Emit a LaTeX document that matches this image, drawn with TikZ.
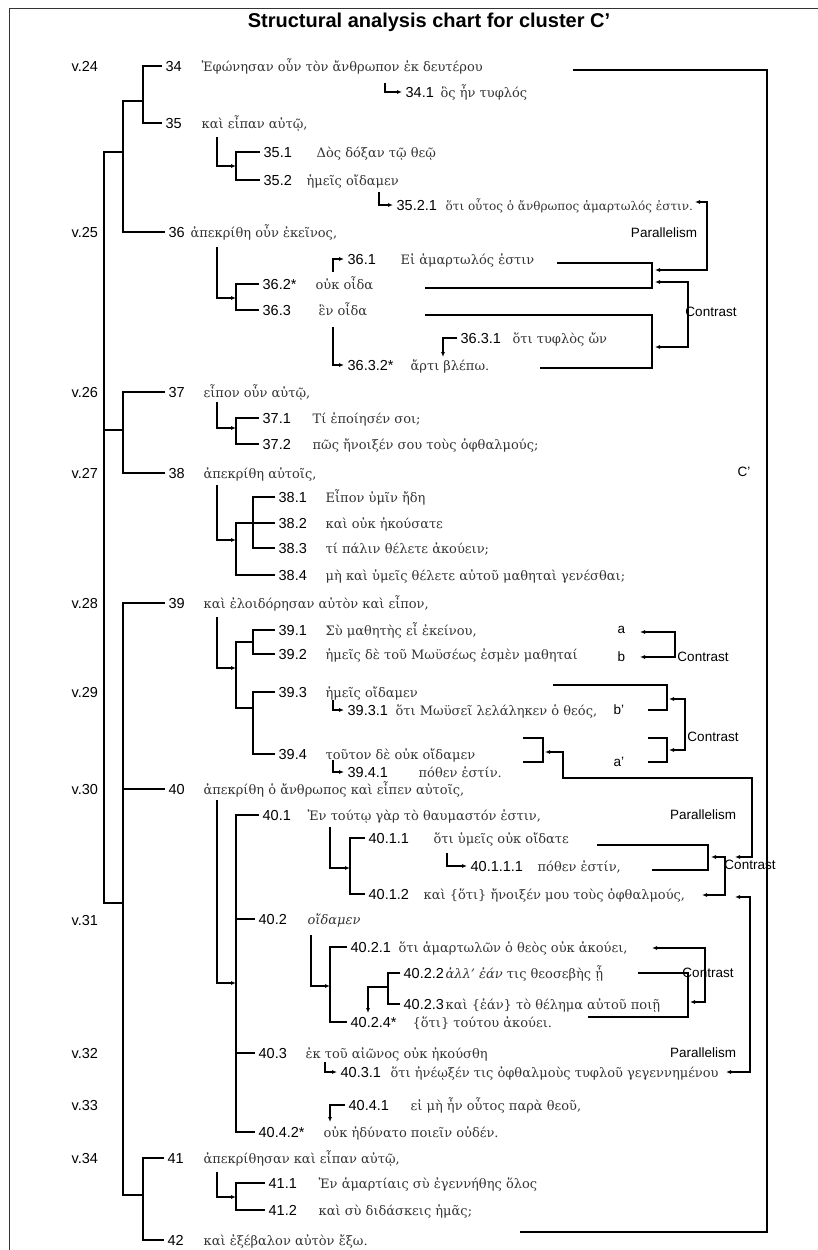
\documentclass[tikz,border=0pt]{standalone}
\usepackage{fontspec}
\setmainfont{DejaVu Serif}
\newfontfamily\sansf{Liberation Sans}
\usetikzlibrary{arrows.meta}

\begin{document}
\begin{tikzpicture}[x=1pt, y=-1pt, line width=1.3pt,
  num/.style={font=\sansf\fontsize{14.5}{16}\selectfont, anchor=base west, inner sep=3pt},
  gk/.style={font=\fontsize{13}{15}\selectfont, text=black!80, anchor=base west, inner sep=0pt},
  lab/.style={font=\sansf\fontsize{13.5}{16}\selectfont, inner sep=0pt},
  ar/.style={-{Latex[length=5pt,width=4pt]}},
  dbl/.style={{Latex[length=5pt,width=4pt]}-{Latex[length=5pt,width=4pt]}}]
  \useasboundingbox (0,0) rectangle (818,1250);
  %% Frame and title
  \draw[line width=0.8pt, black!80] (9,1250) -- (9,8) -- (818,8);
  \node[font=\sansf\bfseries\fontsize{20}{22}\selectfont] (title) at (429,22) {Structural analysis chart for cluster C’};
  %% Verse markers
  \foreach \v/\y in {24/66,25/232,26/392,27/473,28/603,29/692,30/789,31/920,32/1053,33/1105,34/1158}
    \node[num, inner sep=0pt] (v\v) at (71,\y+5) {v.\v};
  %% Numbered lines and Greek text
  \foreach \id/\nx/\y/\lbl/\tx/\txt in {
    34/165/66/34/201/{Ἐφώνησαν οὖν τὸν ἄνθρωπον ἐκ δευτέρου},
    34-1/405/92/34.1/440/{ὃς ἦν τυφλός},
    35/165/123/35/201/{καὶ εἶπαν αὐτῷ,},
    35-1/263/152/35.1/316/{Δὸς δόξαν τῷ θεῷ},
    35-2/263/180/35.2/306/{ἡμεῖς οἴδαμεν},
    35-2-1/396/205/35.2.1/445/{\fontsize{12}{14}\selectfont ὅτι οὗτος ὁ ἄνθρωπος ἁμαρτωλός ἐστιν.},
    36/168/232/36/190/{ἀπεκρίθη οὖν ἐκεῖνος,},
    36-1/347/259/36.1/400/{Εἰ ἁμαρτωλός ἐστιν},
    36-2/262/284/36.2*/315/{οὐκ οἶδα},
    36-3/262/310/36.3/318/{ἓν οἶδα},
    36-3-1/460/338/36.3.1/512/{ὅτι τυφλὸς ὤν},
    36-3-2/347/365/36.3.2*/410/{ἄρτι βλέπω.},
    37/168/392/37/203/{εἶπον οὖν αὐτῷ,},
    37-1/262/418/37.1/312/{Τί ἐποίησέν σοι;},
    37-2/262/444/37.2/312/{πῶς ἤνοιξέν σου τοὺς ὀφθαλμούς;},
    38/168/473/38/203/{ἀπεκρίθη αὐτοῖς,},
    38-1/278/497/38.1/325/{Εἶπον ὑμῖν ἤδη},
    38-2/278/523/38.2/325/{καὶ οὐκ ἠκούσατε},
    38-3/278/548/38.3/325/{τί πάλιν θέλετε ἀκούειν;},
    38-4/278/575/38.4/325/{μὴ καὶ ὑμεῖς θέλετε αὐτοῦ μαθηταὶ γενέσθαι;},
    39/168/603/39/203/{καὶ ἐλοιδόρησαν αὐτὸν καὶ εἶπον,},
    39-1/278/630/39.1/325/{Σὺ μαθητὴς εἶ ἐκείνου,},
    39-2/278/654/39.2/325/{ἡμεῖς δὲ τοῦ Μωϋσέως ἐσμὲν μαθηταί},
    39-3/278/692/39.3/325/{ἡμεῖς οἴδαμεν},
    39-3-1/347/710/39.3.1/395/{ὅτι Μωϋσεῖ λελάληκεν ὁ θεός,},
    39-4/278/754/39.4/325/{τοῦτον δὲ οὐκ οἴδαμεν},
    39-4-1/347/772/39.4.1/418/{πόθεν ἐστίν.},
    40/168/789/40/203/{ἀπεκρίθη ὁ ἄνθρωπος καὶ εἶπεν αὐτοῖς,},
    40-1/262/815/40.1/307/{Ἐν τούτῳ γὰρ τὸ θαυμαστόν ἐστιν,},
    40-1-1/368/838/40.1.1/433/{ὅτι ὑμεῖς οὐκ οἴδατε},
    40-1-1-1/470/866/40.1.1.1/537/{πόθεν ἐστίν,},
    40-1-2/368/894/40.1.2/423/{καὶ \{ὅτι\} ἤνοιξέν μου τοὺς ὀφθαλμούς,},
    40-2/258/919/40.2/307/{\itshape οἴδαμεν},
    40-2-1/350/947/40.2.1/398/{ὅτι ἁμαρτωλῶν ὁ θεὸς οὐκ ἀκούει,},
    40-2-2/403/973/40.2.2/445/{{\itshape ἀλλ’ ἐάν} τις θεοσεβὴς ᾖ},
    40-2-3/403/1004/40.2.3/445/{καὶ \{ἐάν\} τὸ θέλημα αὐτοῦ ποιῇ},
    40-2-4/350/1022/40.2.4*/412/{\{ὅτι\} τούτου ἀκούει.},
    40-3/258/1053/40.3/305/{ἐκ τοῦ αἰῶνος οὐκ ἠκούσθη},
    40-3-1/340/1072/40.3.1/390/{ὅτι ἠνέῳξέν τις ὀφθαλμοὺς τυφλοῦ γεγεννημένου},
    40-4-1/348/1105/40.4.1/410/{εἰ μὴ ἦν οὗτος παρὰ θεοῦ,},
    40-4-2/258/1132/40.4.2*/323/{οὐκ ἠδύνατο ποιεῖν οὐδέν.},
    41/167/1158/41/203/{ἀπεκρίθησαν καὶ εἶπαν αὐτῷ,},
    41-1/268/1183/41.1/318/{Ἐν ἁμαρτίαις σὺ ἐγεννήθης ὅλος},
    41-2/268/1210/41.2/318/{καὶ σὺ διδάσκεις ἡμᾶς;},
    42/167/1240/42/203/{καὶ ἐξέβαλον αὐτὸν ἔξω.}}{
    \node[num] (n\id) at (\nx-3,\y+5) {\lbl};
    \node[gk] (t\id) at (\tx,\y+5) {\txt};
  }
  %% Junction points
  \foreach \c/\x/\y in {r1/104/152, r2/104/430, r3/104/903, j24/143/101, k24/123/101,
      k26/123/430, k28/123/903, j34/143/1195,
      a34-1/385/83, a35/217/137, b35/236/166, a35-2-1/379/192,
      a36/217/247, b36/236/298, a36-1/333/272, a36-3-1/443/357, a36-3-2/333/327,
      a37/217/402, b37/236/428, a38/217/485, b38/236/540, b38i/253/523,
      a39/217/617, b39/236/668, b39a/253/642, b39b/253/708, a39-3-1/333/700, a39-4-1/333/760,
      a40/217/800, b40/236/983, a40-1/330/827, b40-1/350/868, a40-1-1-1/447/853,
      a40-2/311/935, b40-2/330/986, b40-2i/388/987, a40-2i/368/1013,
      a40-3-1/325/1062, a40-4-1/330/1122, a41/217/1172, b41/236/1197}
    \coordinate (\c) at (\x,\y);
  %% Main tree
  \draw (n34.west) -| (j24) |- (n35.west);
  \draw (j24) -- (k24) |- (n36.west);
  \draw (n37.west) -| (k26) |- (n38.west);
  \draw (n39.west) -| (k28) |- (j34);
  \draw (n40.west) -- (n40.west -| k28);
  \draw (n41.west) -| (j34) |- (n42.west);
  \draw (r1 -| k24) -- (r1) -- (r3) -- (k28);
  \draw (r2) -- (k26);
  %% Sub-brackets
  \draw (n35-1.west) -| (b35) |- (n35-2.west);
  \draw (n36-2.west) -| (b36) |- (n36-3.west);
  \draw (n37-1.west) -| (b37) |- (n37-2.west);
  \draw (n38-1.west) -| (b38i) |- (n38-3.west);
  \draw (n38-2.west) -| (b38) |- (n38-4.west);
  \draw (n39-1.west) -| (b39a) |- (n39-2.west);
  \draw (n39-3.west) -| (b39b) |- (n39-4.west);
  \draw (b39a) -| (b39) |- (b39b);
  \draw (n40-1.west) -| (b40) |- (n40-4-2.west);
  \draw (n40-2.west) -- (n40-2.west -| b40);
  \draw (n40-3.west) -- (n40-3.west -| b40);
  \draw (n40-1-1.west) -| (b40-1) |- (n40-1-2.west);
  \draw (n40-2-1.west) -| (b40-2) |- (n40-2-4.west);
  \draw (n40-2-2.west) -| (b40-2i) |- (n40-2-3.west);
  \draw (n41-1.west) -| (b41) |- (n41-2.west);
  %% Hook arrows
  \foreach \s/\e in {a35/b35, a36/b36, a37/b37, a38/b38, a39/b39, a40/b40,
      a40-1/b40-1, a40-2/b40-2, a41/b41}
    \draw[ar] (\s) |- (\e);
  \foreach \s in {34-1, 35-2-1, 36-1, 36-3-2, 39-3-1, 39-4-1, 40-1-1-1, 40-3-1}
    \draw[ar] (a\s) |- (n\s.west);
  \draw[ar] (n36-3-1.west) -| (a36-3-1);
  \draw[ar] (n40-4-1.west) -| (a40-4-1);
  \draw[ar] (b40-2i) -| (a40-2i);
  %% Right-hand brackets
  \foreach \c/\x/\y in {cTop/573/70, cR/767/650, cBot/520/1232,
      p1a/695/202, p1b/655/270, bA1/557/263, bA/652/275, bA2/425/288,
      bB1/425/315, bB/652/340, bB2/540/368, c1a/655/282, c1b/655/347,
      c2a/640/632, c2b/640/657, bC1/553/685, bC/667/697, bC2/648/710,
      bD1/648/738, bD/667/750, bD2/648/762, c3a/669/699, c3b/669/750,
      bE1/523/738, bE/543/752, bE2/523/762, p2a/545/752, p2c/752/778, p2b/735/857,
      bF1/597/845, bF/708/857, bF2/652/870, c4a/711/857, c4b/702/895,
      p3a/735/897, p3b/726/1072, c5a/652/948, c5b/690/1002,
      bG1/638/973, bG/688/1002, bG2/588/1017}
    \coordinate (\c) at (\x,\y);
  \draw (cTop) -| (cR) |- (cBot);
  \foreach \b in {A, B, C, D, E, F, G}
    \draw (b\b1) -| (b\b) |- (b\b2);
  \draw[dbl] (p1a) -- ++(12,0) |- (p1b);
  \draw[dbl] (c1a) -- ++(33,0) |- (c1b);
  \draw[dbl] (c2a) -- ++(35,0) |- (c2b);
  \draw[dbl] (c3a) -- ++(16,0) |- (c3b);
  \draw[dbl] (p2a) -- ++(18,0) |- (p2c) |- (p2b);
  \draw[dbl] (c4a) -- ++(14,0) |- (c4b);
  \draw[dbl] (p3a) -- ++(15,0) |- (p3b);
  \draw[dbl] (c5a) -- ++(53,0) |- (c5b);
  %% Relation labels
  \node[lab] (par1) at (664,233) {Parallelism};
  \node[lab] (con1) at (711,312) {Contrast};
  \node[lab] (con2) at (703,657) {Contrast};
  \node[lab] (con3) at (713,737) {Contrast};
  \node[lab] (par2) at (703,815) {Parallelism};
  \node[lab] (con4) at (750,865) {Contrast};
  \node[lab] (con5) at (708,973) {Contrast};
  \node[lab] (par3) at (703,1053) {Parallelism};
  \node[lab, anchor=west] (clu) at (737,472) {C’};
  \node[lab, anchor=west] (la) at (617,630) {a};
  \node[lab, anchor=west] (lb) at (617,657) {b};
  \node[lab, anchor=west] (lbp) at (613,710) {b’};
  \node[lab, anchor=west] (lap) at (613,762) {a’};
\end{tikzpicture}
\end{document}
